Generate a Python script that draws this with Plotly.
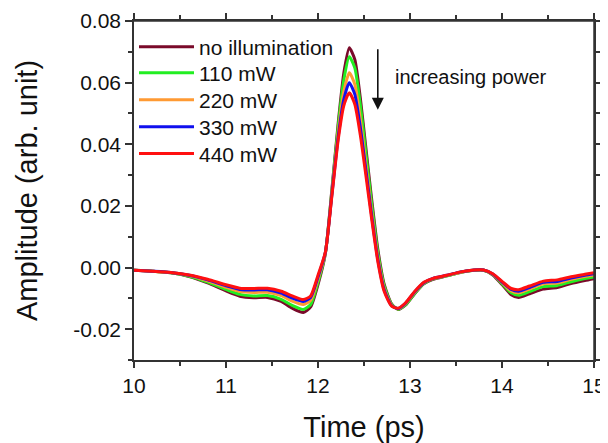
import plotly.graph_objects as go

time_ps = [10.0, 10.2, 10.4, 10.6, 10.8, 11.0, 11.15, 11.3, 11.45, 11.6, 11.72, 11.84, 11.92, 12.0,
           12.08, 12.15, 12.22, 12.28, 12.34, 12.4, 12.46, 12.52, 12.58, 12.65, 12.72, 12.8, 12.87,
           12.95, 13.05, 13.15, 13.25, 13.4, 13.55, 13.7, 13.8, 13.9, 14.0, 14.1, 14.18, 14.3, 14.45,
           14.6, 14.75, 14.9, 15.0]

no_illum = [-0.0009, -0.0012, -0.0017, -0.0029, -0.0050, -0.0076, -0.0093, -0.0098, -0.0097, -0.0110,
            -0.0132, -0.0146, -0.0128, -0.0055, 0.0045, 0.0250, 0.0470, 0.0630, 0.0713, 0.0675,
            0.0550, 0.0390, 0.0230, 0.0060, -0.0055, -0.0118, -0.0136, -0.0122, -0.0085, -0.0053,
            -0.0038, -0.0027, -0.0016, -0.0009, -0.0009, -0.0024, -0.0055, -0.0088, -0.0097, -0.0085,
            -0.0070, -0.0065, -0.0052, -0.0042, -0.0036]

mw110 = [-0.0009, -0.0012, -0.0017, -0.0028, -0.0047, -0.0071, -0.0087, -0.0092, -0.0091, -0.0103,
         -0.0123, -0.0136, -0.0120, -0.0048, 0.0047, 0.0245, 0.0460, 0.0608, 0.0684, 0.0648,
         0.0528, 0.0372, 0.0215, 0.0050, -0.0060, -0.0120, -0.0135, -0.0121, -0.0084, -0.0052,
         -0.0037, -0.0027, -0.0015, -0.0009, -0.0009, -0.0023, -0.0052, -0.0082, -0.0090, -0.0078,
         -0.0062, -0.0058, -0.0046, -0.0036, -0.0031]

mw220 = [-0.0009, -0.0012, -0.0016, -0.0026, -0.0043, -0.0064, -0.0078, -0.0081, -0.0080, -0.0091,
         -0.0109, -0.0120, -0.0106, -0.0038, 0.0048, 0.0238, 0.0440, 0.0570, 0.0632, 0.0595,
         0.0482, 0.0338, 0.0190, 0.0035, -0.0068, -0.0122, -0.0134, -0.0118, -0.0081, -0.0050,
         -0.0036, -0.0026, -0.0015, -0.0008, -0.0008, -0.0022, -0.0049, -0.0076, -0.0082, -0.0070,
         -0.0053, -0.0050, -0.0038, -0.0029, -0.0024]

mw330 = [-0.0009, -0.0012, -0.0016, -0.0025, -0.0040, -0.0059, -0.0071, -0.0073, -0.0072, -0.0083,
         -0.0099, -0.0110, -0.0097, -0.0031, 0.0049, 0.0234, 0.0425, 0.0545, 0.0600, 0.0562,
         0.0455, 0.0318, 0.0176, 0.0027, -0.0073, -0.0124, -0.0133, -0.0116, -0.0079, -0.0049,
         -0.0035, -0.0025, -0.0014, -0.0008, -0.0008, -0.0021, -0.0047, -0.0071, -0.0077, -0.0065,
         -0.0048, -0.0045, -0.0034, -0.0025, -0.0020]

mw440 = [-0.0009, -0.0012, -0.0016, -0.0024, -0.0038, -0.0056, -0.0067, -0.0068, -0.0067, -0.0077,
         -0.0092, -0.0104, -0.0092, -0.0025, 0.0050, 0.0230, 0.0415, 0.0525, 0.0567, 0.0530,
         0.0430, 0.0300, 0.0165, 0.0020, -0.0078, -0.0125, -0.0132, -0.0115, -0.0078, -0.0048,
         -0.0035, -0.0025, -0.0014, -0.0008, -0.0008, -0.0020, -0.0045, -0.0068, -0.0072, -0.0060,
         -0.0044, -0.0040, -0.0030, -0.0022, -0.0017]

series_names = ["no illumination", "110 mW", "220 mW", "330 mW", "440 mW"]
series_values = [no_illum, mw110, mw220, mw330, mw440]
series_colors = ["#7a0a2a", "#22ee22", "#ff9a33", "#1010ee", "#ff1010"]

x_range = [10, 15]
y_range = [-0.03, 0.08]
x_ticks = [10, 11, 12, 13, 14, 15]
y_ticks = [-0.02, 0.00, 0.02, 0.04, 0.06, 0.08]

FONT = "Liberation Sans, Arial, sans-serif"
AX = "#333333"
TXT = "#111111"

# one legend per series so the row spacing can match the reference
legend_ids = ["legend", "legend2", "legend3", "legend4", "legend5"]
legend_y = [0.923, 0.846, 0.767, 0.687, 0.608]

fig = go.Figure()
for name, vals, col, lid in zip(series_names, series_values, series_colors, legend_ids):
    fig.add_trace(go.Scatter(x=time_ps, y=vals, name=name, mode="lines", legend=lid,
                             line=dict(color=col, width=3, shape="spline", smoothing=0.6)))

fig.add_annotation(x=12.65, y=0.0512, ax=12.65, ay=0.0713, xref="x", yref="y",
                   axref="x", ayref="y", showarrow=True, arrowhead=2, arrowsize=1.5,
                   arrowwidth=1.6, arrowcolor=TXT, text="")
fig.add_annotation(x=12.82, y=0.0618, xref="x", yref="y", text="increasing power",
                   showarrow=False, xanchor="left", yanchor="middle",
                   font=dict(family=FONT, size=20, color=TXT))

# plot frame (top and right sides)
fig.add_shape(type="line", xref="paper", yref="paper", x0=0, x1=1, y0=1, y1=1,
              line=dict(color=AX, width=1.5), layer="above")
fig.add_shape(type="line", xref="paper", yref="paper", x0=1, x1=1, y0=0, y1=1,
              line=dict(color=AX, width=1.5), layer="above")

legend_layout = {}
for lid, ly in zip(legend_ids, legend_y):
    legend_layout[lid] = dict(x=0.0, y=ly, xanchor="left", yanchor="middle",
                              bgcolor="rgba(0,0,0,0)", itemwidth=55,
                              font=dict(family=FONT, size=21, color=TXT))

fig.update_layout(
    width=600, height=435,
    margin=dict(l=126, r=14, t=13, b=83, autoexpand=False),
    paper_bgcolor="white", plot_bgcolor="white",
    font=dict(family=FONT, color=TXT),
    showlegend=True,
    **legend_layout,
    xaxis=dict(range=x_range, tickvals=x_ticks, ticktext=[str(v) for v in x_ticks],
               automargin=False, mirror="allticks",
               showline=True, linecolor=AX, linewidth=1.5, showgrid=False, zeroline=False,
               ticks="outside", ticklen=6, tickwidth=1.5, tickcolor=AX,
               minor=dict(ticks="outside", ticklen=4, tickwidth=1.5, tickcolor=AX, dtick=0.5,
                          tick0=10, showgrid=False),
               tickfont=dict(family=FONT, size=21, color=TXT),
               title=dict(text="Time (ps)", font=dict(family=FONT, size=29, color=TXT),
                          standoff=21)),
    yaxis=dict(range=y_range, tickvals=y_ticks, ticktext=[f"{v:.2f}" for v in y_ticks],
               automargin=False, mirror="allticks",
               showline=True, linecolor=AX, linewidth=1.5, showgrid=False, zeroline=False,
               ticks="outside", ticklen=7, tickwidth=1.5, tickcolor=AX,
               minor=dict(ticks="outside", ticklen=4, tickwidth=1.5, tickcolor=AX, dtick=0.01,
                          tick0=0, showgrid=False),
               tickfont=dict(family=FONT, size=21, color=TXT),
               title=dict(text="Amplitude (arb. unit)",
                          font=dict(family=FONT, size=29, color=TXT), standoff=27)),
)

fig.write_html("out.html")
